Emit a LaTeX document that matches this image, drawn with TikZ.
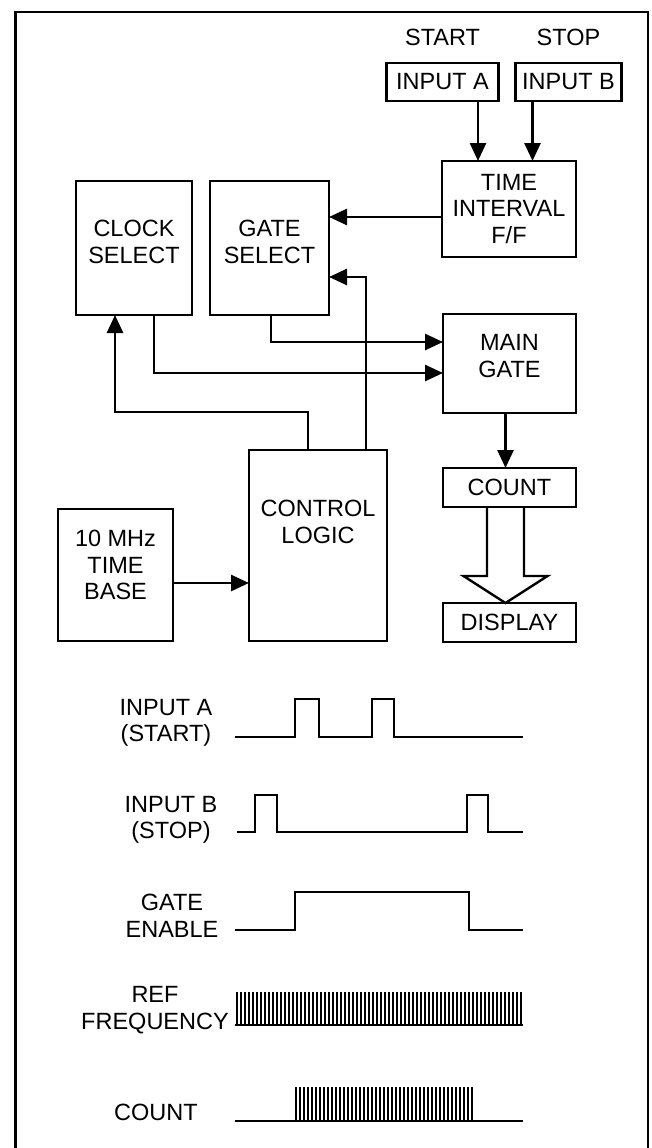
\documentclass[tikz,border=0pt]{standalone}
\usepackage{fontspec}
\setmainfont{Liberation Sans}
\usetikzlibrary{arrows.meta,positioning,calc}
\tikzset{
  cntblock/.style={draw, line width=2.4pt, align=center, inner sep=0pt, outer sep=0pt, font=\fontsize{23.5}{26.5}\selectfont},
  cntlabel/.style={align=center, inner sep=0pt, font=\fontsize{23.5}{26.5}\selectfont},
  cntarrow/.style={-{Triangle[length=18pt,width=16pt]}, line width=2.6pt},
  cnthollow/.style={line width=2.4pt, line join=miter},
  cntwave/.style={line width=2.6pt, line join=miter},
  cnttick/.style={line width=2pt}
}
\begin{document}
\begin{tikzpicture}[x=1pt, y=-1pt, node distance=18pt and 18pt]
\useasboundingbox (0,0) rectangle (652,1148);
\draw[line width=2.4pt] (15.5,1148) -- (15.5,12) -- (648,12) -- (648,1148);
\node[cntblock, minimum width=112pt, minimum height=38pt] (inputa) at (442.5,82) {INPUT A};
\node[cntblock, minimum width=106pt, minimum height=38pt, right=17pt of inputa] (inputb) {INPUT B};
\node[cntlabel, above=17pt of inputa] (start) {START};
\node[cntlabel, above=17pt of inputb] (stop) {STOP};
\node[cntblock, minimum width=134pt, minimum height=96pt] (tiff) at (509,209) {TIME\\INTERVAL\\F/F};
\node[cntblock, minimum width=119pt, minimum height=134pt, text depth=12pt] (gatesel) at (269.5,248) {GATE\\SELECT};
\node[cntblock, minimum width=116pt, minimum height=134pt, text depth=12pt] (clocksel) at (134,248) {CLOCK\\SELECT};
\node[cntblock, minimum width=133pt, minimum height=99pt, text depth=15pt] (maingate) at (509.5,363.5) {MAIN\\GATE};
\node[cntblock, minimum width=133pt, minimum height=39pt, below=55pt of maingate] (count) {COUNT};
\node[cntblock, minimum width=133pt, minimum height=39pt, below=96pt of count] (display) {DISPLAY};
\node[cntblock, minimum width=138pt, minimum height=191pt, text depth=47pt] (control) at (318,545.5) {CONTROL\\LOGIC};
\node[cntblock, minimum width=115pt, minimum height=132pt, text depth=20pt] (timebase) at (115.5,575) {10 MHz\\TIME\\BASE};
\draw[cntarrow] ($(inputa.south)+(35.5,0)$) coordinate (pa) -- (pa |- tiff.north);
\draw[cntarrow] ($(inputb.south)+(-36,0)$) coordinate (pb) -- (pb |- tiff.north);
\draw[cntarrow] ($(tiff.west)+(0,8)$) coordinate (pt) -- (pt -| gatesel.east);
\draw[cntarrow] ($(control.north)+(48,0)$) |- ($(gatesel.east)+(0,29)$);
\draw[cntarrow] ($(control.north)+(-10,0)$) -- ++(0,-38) -| ($(clocksel.south)+(-19,0)$);
\draw[cntarrow] ($(gatesel.south)+(1.5,0)$) |- ($(maingate.west)+(0,-21.5)$);
\draw[cntarrow] ($(clocksel.south)+(20,0)$) |- ($(maingate.west)+(0,9.5)$);
\draw[cntarrow] ($(maingate.south)+(-4,0)$) coordinate (pm) -- (pm |- count.north);
\draw[cntarrow] ($(timebase.east)+(0,8)$) coordinate (pc) -- (pc -| control.west);
\draw[cnthollow] ($(count.south)+(-22.5,0)$) -- ++(0,69) -- ++(-23.5,0) -- ($(display.north)+(-4,0)$) -- ++(42,-27) -- ++(-23.5,0) -- ++(0,-69);
\node[cntlabel] (lbla) at (166,723) {INPUT A\\(START)};
\node[cntlabel] (lblb) at (171,820) {INPUT B\\(STOP)};
\node[cntlabel] (lblgate) at (172,916) {GATE\\ENABLE};
\node[cntlabel] (lblref) at (155,1010) {REF\\FREQUENCY};
\node[cntlabel] (lblcount) at (156,1112) {COUNT};
\draw[cntwave] (235,737) -- (295,737) -- (295,699) -- (319,699) -- (319,737) -- (372,737) -- (372,699) -- (394,699) -- (394,737) -- (523,737);
\draw[cntwave] (237,832) -- (255,832) -- (255,795) -- (277,795) -- (277,832) -- (467,832) -- (467,795) -- (488,795) -- (488,832) -- (523,832);
\draw[cntwave] (235,930) -- (295,930) -- (295,892) -- (469,892) -- (469,930) -- (523,930);
\foreach \x in {237,241,...,521} \draw[cnttick] (\x,1025) -- (\x,992);
\draw[cntwave] (235,1025) -- (523,1025);
\foreach \x in {296,300,...,472} \draw[cnttick] (\x,1121) -- (\x,1087);
\draw[cntwave] (235,1121) -- (523,1121);
\end{tikzpicture}
\end{document}
